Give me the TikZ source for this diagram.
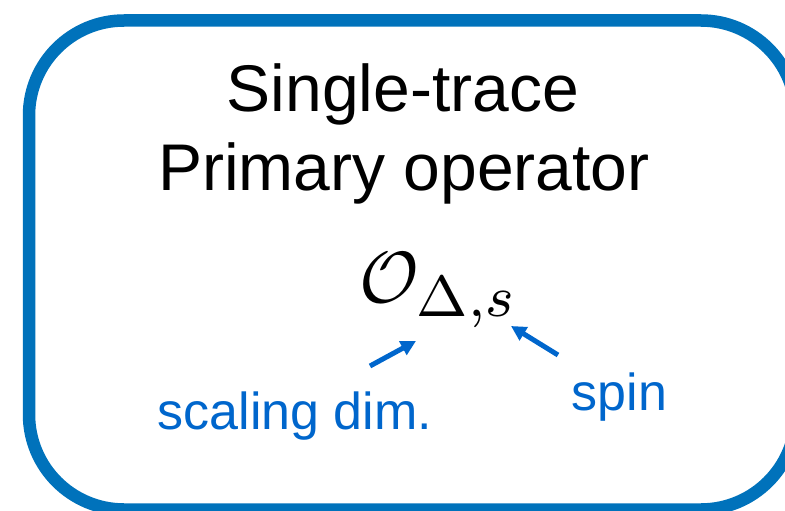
\documentclass[tikz,border=0pt]{standalone}
\usepackage{graphicx}
\usepackage{fontspec}
\setmainfont{Liberation Sans}
\usetikzlibrary{arrows.meta}
\DeclareMathSizes{10}{10}{8}{6}
\definecolor{frameblue}{RGB}{0,114,187}
\definecolor{labelblue}{RGB}{0,102,204}
\tikzset{
  frame/.style={draw=frameblue, line width=12.5pt, rounded corners=95pt},
  title/.style={inner sep=0pt, anchor=base, font=\fontsize{66}{79}\selectfont},
  label/.style={inner sep=0pt, anchor=base, text=labelblue, font=\fontsize{52}{62}\selectfont},
  pointer/.style={draw=labelblue, line width=5pt, -{Triangle[length=15pt,width=15pt]}}
}
\begin{document}
\begin{tikzpicture}[x=1pt, y=-1pt]
  \useasboundingbox (0,0) rectangle (785,511);
  \clip (0,0) rectangle (785,511);
  % rounded frame, partly running off the right and bottom edges
  \draw[frame] (29,20.5) rectangle (796,509.5);
  % heading
  \node[title] (line1) at (403,111) {Single-trace};
  \node[title] (line2) at (404,190) {Primary operator};
  % operator symbol
  \node[inner sep=0pt, anchor=base west, font=\fontsize{10}{12}\selectfont] (op) at (359,302) {\scalebox{7.25}{$\mathcal{O}_{\Delta,s}$}};
  % labels
  \node[label] (dimlabel) at (295,429) {scaling dim.};
  \node[label] (spinlabel) at (619.5,410) {spin};
  % pointers
  \coordinate (dimtail) at (370,366);
  \coordinate (dimtip) at (416,341);
  \coordinate (spintail) at (558,355);
  \coordinate (spintip) at (511,326);
  \draw[pointer] (dimtail) -- (dimtip);
  \draw[pointer] (spintail) -- (spintip);
\end{tikzpicture}
\end{document}
